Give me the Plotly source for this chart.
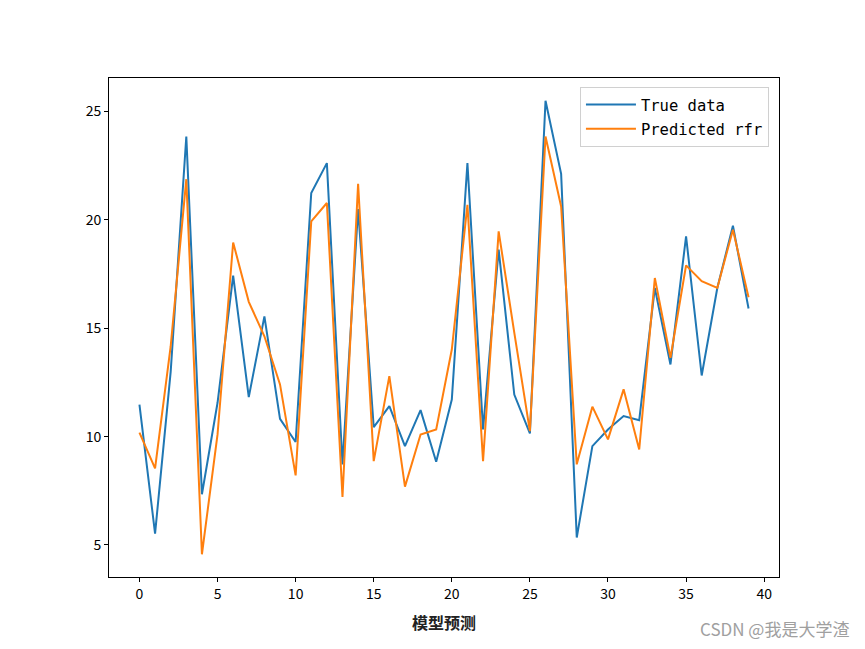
import plotly.graph_objects as go

x_idx = list(range(40))
true_data = [11.48, 5.52, 13.0, 23.85, 7.34, 11.56, 17.43, 11.82, 15.55, 10.82,
             9.75, 21.24, 22.62, 8.72, 20.5, 10.44, 11.41, 9.56, 11.22, 8.84,
             11.71, 22.62, 10.33, 18.63, 11.94, 10.15, 25.5, 22.13, 5.34, 9.56,
             10.33, 10.95, 10.76, 16.86, 13.33, 19.24, 12.82, 16.86, 19.73, 15.91]
pred_rfr = [10.18, 8.53, 14.17, 21.88, 4.57, 10.1, 18.96, 16.22, 14.63, 12.41,
            8.21, 19.93, 20.78, 7.21, 21.67, 8.87, 12.79, 7.69, 10.1, 10.33,
            14.02, 20.7, 8.87, 19.47, 14.8, 10.25, 23.85, 20.62, 8.72, 11.38,
            9.87, 12.18, 9.41, 17.32, 13.64, 17.9, 17.17, 16.86, 19.55, 16.43]
x_ticks = [0, 5, 10, 15, 20, 25, 30, 35, 40]
y_ticks = [5, 10, 15, 20, 25]

fig = go.Figure()
fig.add_trace(go.Scatter(x=x_idx, y=true_data, mode="lines", name="True data",
                         legendgroup="a",
                         line=dict(color="#1f77b4", width=2)))
fig.add_trace(go.Scatter(x=x_idx, y=pred_rfr, mode="lines", name="Predicted rfr",
                         legendgroup="b",
                         line=dict(color="#ff7f0e", width=2)))

axis_common = dict(showline=True, mirror=True, linecolor="black", linewidth=1,
                   ticks="outside", ticklen=4, tickcolor="black", showgrid=False,
                   zeroline=False, tickfont=dict(family="Noto Sans CJK SC, DejaVu Sans", size=14, color="black"))

fig.update_layout(
    width=865, height=649,
    margin=dict(l=109, r=86, t=78, b=72),
    paper_bgcolor="white", plot_bgcolor="white",
    xaxis=dict(range=[-1.95, 40.95], tickvals=x_ticks,
               title=dict(text="<b>模型预测</b>", font=dict(family="Noto Sans CJK SC", size=16, color="#222222"), standoff=16),
               **axis_common),
    yaxis=dict(range=[3.52, 26.55], tickvals=y_ticks, **axis_common),
    legend=dict(x=0.985, y=0.982, xanchor="right", yanchor="top",
                bgcolor="rgba(255,255,255,0.8)", bordercolor="#d0d0d0", borderwidth=1,
                font=dict(family="DejaVu Sans Mono", size=15.5, color="black"),
                itemwidth=50, tracegroupgap=1),
    showlegend=True,
    annotations=[dict(text="CSDN @我是大学渣", xref="paper", yref="paper",
                      x=1.108, y=-0.075, xanchor="right", yanchor="top", showarrow=False,
                      font=dict(family="Noto Sans CJK SC", size=17, color="#a0a0a0"))],
)

fig.write_html("out.html")
